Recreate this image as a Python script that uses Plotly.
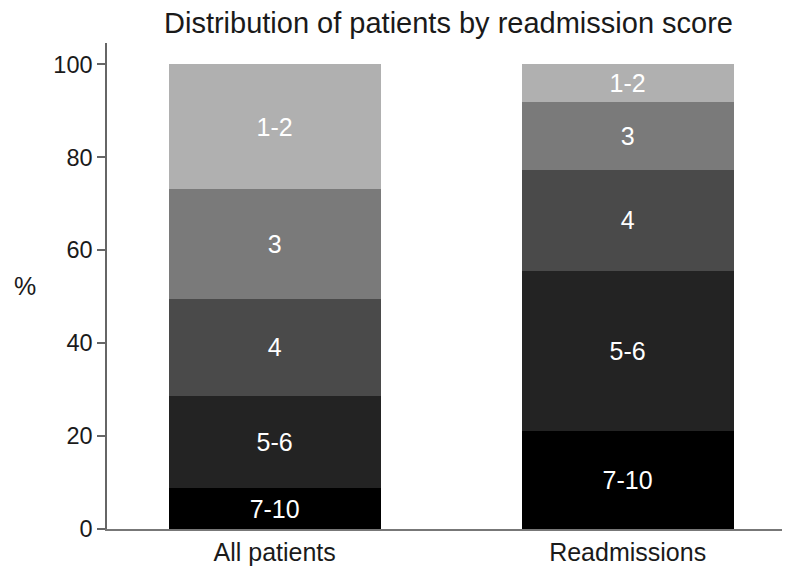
import plotly.graph_objects as go

groups = ["All patients", "Readmissions"]
scores = ["7-10", "5-6", "4", "3", "1-2"]
all_patients = [8.8, 19.8, 21.0, 23.5, 26.9]
readmissions = [21.2, 34.4, 21.7, 14.7, 8.0]
colors = ["#000000", "#232323", "#4a4a4a", "#7a7a7a", "#b0b0b0"]
y_ticks = [0, 20, 40, 60, 80, 100]

FONT = "Liberation Sans, Arial, Helvetica, sans-serif"
OFF = 8  # page body margin offset

fig = go.Figure()
for i, s in enumerate(scores):
    fig.add_trace(go.Bar(
        x=groups,
        y=[all_patients[i], readmissions[i]],
        name=s,
        marker=dict(color=colors[i], line=dict(width=0)),
        text=[s, s],
        textposition="inside",
        insidetextanchor="middle",
        textangle=0,
        constraintext="none",
        textfont=dict(color="white", size=25, family=FONT),
        width=0.6,
        hoverinfo="skip",
    ))

L, R, T, B = 107 - OFF, OFF, 43 - OFF, 566 - 529 + OFF
W, H = 790, 566
plot_w = W - L - R

fig.update_layout(
    barmode="stack",
    width=W, height=H,
    margin=dict(l=L, r=R, t=T, b=B),
    paper_bgcolor="white", plot_bgcolor="white",
    showlegend=False,
    font=dict(family=FONT, color="#1a1a1a", size=23),
    title=dict(text="Distribution of patients by readmission score",
               x=0.5, xref="paper", xanchor="center",
               y=1 - (23 - OFF) / H, yref="container", yanchor="middle",
               font=dict(size=29, family=FONT, color="#1a1a1a")),
    xaxis=dict(range=[-0.475, 1.46], showline=True, linecolor="#777777", linewidth=1.5,
               ticks="", showgrid=False, zeroline=False, automargin=False,
               tickfont=dict(size=25)),
    yaxis=dict(range=[0, 104.6], tickvals=y_ticks, showline=True, linecolor="#666666",
               linewidth=1.5, ticks="outside", ticklen=8, tickcolor="#666666", tickwidth=1.5,
               showgrid=False, zeroline=False, automargin=False,
               tickfont=dict(size=23.5)),
    annotations=[dict(text="%", x=(25 - 107) / plot_w, xref="paper", xanchor="center",
                      y=0.5, yref="paper", yanchor="middle", showarrow=False,
                      font=dict(size=25, family=FONT, color="#1a1a1a"))],
)

fig.write_html("out.html")
